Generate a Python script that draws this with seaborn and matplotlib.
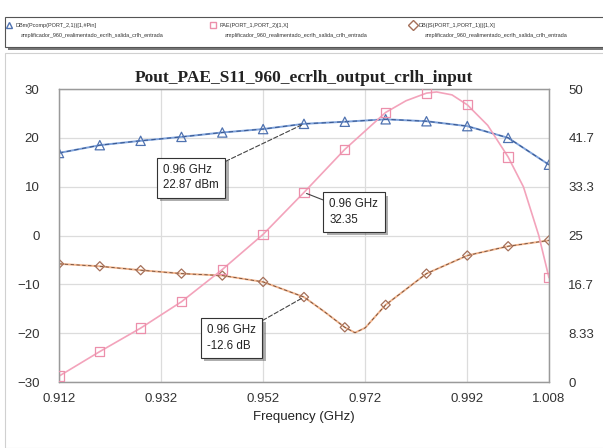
import numpy as np
import pandas as pd
import matplotlib
matplotlib.use("Agg")
import matplotlib.pyplot as plt
import matplotlib.patheffects as pe
from matplotlib.patches import Rectangle
import seaborn as sns

# Marker points (every 0.008 GHz)
freq = [0.912, 0.920, 0.928, 0.936, 0.944, 0.952, 0.960, 0.968, 0.976, 0.984, 0.992, 1.000, 1.008]
pout = [16.9, 18.5, 19.4, 20.2, 21.1, 21.8, 22.87, 23.3, 23.8, 23.4, 22.4, 20.0, 14.5]
pae = [1.0, 5.2, 9.2, 13.7, 19.2, 25.2, 32.35, 39.7, 46.0, 49.3, 47.3, 38.4, 17.8]
s11 = [-5.8, -6.3, -7.1, -7.8, -8.2, -9.5, -12.6, -18.8, -14.2, -7.8, -4.1, -2.2, -1.0]

# extra points
pae_extra_f = [0.980, 0.986, 0.989, 0.996, 1.003, 1.006]
pae_extra = [48.0, 49.5, 49.0, 43.8, 33.3, 25.0]
s11_extra_f = [0.964, 0.970, 0.972]
s11_extra = [-15.6, -19.9, -18.9]

left_ticks = [-30, -20, -10, 0, 10, 20, 30]
right_ticks = [0, 8.33, 16.7, 25, 33.3, 41.7, 50]
right_labels = ["0", "8.33", "16.7", "25", "33.3", "41.7", "50"]
x_ticks = [0.912, 0.932, 0.952, 0.972, 0.992, 1.008]

df = pd.DataFrame({"freq": freq, "pout": pout, "pae": pae, "s11": s11})
pae_line = pd.DataFrame({"freq": freq + pae_extra_f, "pae": pae + pae_extra}).sort_values("freq")
s11_line = pd.DataFrame({"freq": freq + s11_extra_f, "s11": s11 + s11_extra}).sort_values("freq")

sns.set_style("white")
plt.rcParams["font.family"] = ["Liberation Sans", "DejaVu Sans"]

fig = plt.figure(figsize=(6.03, 4.48), dpi=100)
ax = fig.add_axes([0.0978, 0.1473, 0.8126, 0.654])
ax2 = ax.twinx()

blue, blue_dk = "#7fa3dc", "#3b5a92"
pink = "#f3a3bb"
tan, brown_dk = "#f2b48c", "#6b4a3a"

# Pout (left axis)
sns.lineplot(data=df, x="freq", y="pout", ax=ax, color=blue, lw=1.4, sort=False)
sns.lineplot(data=df, x="freq", y="pout", ax=ax, color=blue_dk, lw=0.8, sort=False, linestyle=(0, (4, 3)))
sns.scatterplot(data=df, x="freq", y="pout", ax=ax, marker="^", s=45,
                facecolor="none", edgecolor="#4f72b0", linewidth=0.9, zorder=5)

# S11 (left axis)
sns.lineplot(data=s11_line, x="freq", y="s11", ax=ax, color=tan, lw=1.4, sort=False)
sns.lineplot(data=s11_line, x="freq", y="s11", ax=ax, color=brown_dk, lw=0.6, sort=False, linestyle=(0, (4, 3)))
sns.scatterplot(data=df, x="freq", y="s11", ax=ax, marker="D", s=22,
                facecolor="none", edgecolor="#a5705a", linewidth=0.9, zorder=5)

# PAE (right axis)
sns.lineplot(data=pae_line, x="freq", y="pae", ax=ax2, color=pink, lw=1.2, sort=False)
sns.scatterplot(data=df, x="freq", y="pae", ax=ax2, marker="s", s=45,
                facecolor="none", edgecolor="#ec8fab", linewidth=0.9, zorder=5)

ax.set_xlim(0.912, 1.008)
ax.set_ylim(-30, 30)
ax2.set_ylim(0, 50)
ax.set_xticks(x_ticks)
ax.set_xticklabels([f"{v:.3f}" for v in x_ticks])
ax.set_yticks(left_ticks)
ax2.set_yticks(right_ticks)
ax2.set_yticklabels(right_labels)
ax.grid(True, color="#dcdcdc", lw=0.9)
ax2.grid(False)
ax.set_ylabel("")
ax2.set_ylabel("")
ax.set_xlabel("Frequency (GHz)", fontsize=9.5, color="#222222", labelpad=4)
for a in (ax, ax2):
    a.tick_params(axis="both", length=0, labelsize=9.5, labelcolor="#333333")
    for sp in a.spines.values():
        sp.set_color("#9a9a9a")
        sp.set_linewidth(0.9)
ax.tick_params(axis="y", pad=14)
ax2.tick_params(axis="y", pad=14)
ax.tick_params(axis="x", pad=8)

ax.set_title("Pout_PAE_S11_960_ecrlh_output_crlh_input", family="Liberation Serif",
             fontweight="bold", fontsize=12.5, color="#222222", pad=5)

# marker annotations
ann = [
    (0.960, 22.87, ax, "0.96 GHz\n22.87 dBm", (0.9324, 11.8), (0, (4, 2))),
    (0.960, 32.35, ax2, "0.96 GHz\n32.35", (0.9650, 29.0), "-"),
    (0.960, -12.6, ax, "0.96 GHz\n-12.6 dB", (0.9410, -21.0), (0, (4, 2))),
]
for fx, fy, a, txt, (tx, ty), ls in ann:
    t = a.annotate(txt, xy=(fx, fy), xytext=(tx, ty), fontsize=8.3, color="#222222",
                   ha="left", va="center", linespacing=1.35, zorder=8,
                   bbox=dict(boxstyle="square,pad=0.55", fc="white", ec="#333333", lw=0.8),
                   arrowprops=dict(arrowstyle="-", color="#444444", lw=0.8, linestyle=ls,
                                   shrinkA=0, shrinkB=2))
    t.get_bbox_patch().set_path_effects([pe.SimplePatchShadow(offset=(2.5, -2.5), alpha=0.45),
                                         pe.Normal()])

# outer frame and legend strip at top
fig.patches.append(Rectangle((5 / 603, 0.0), 0.995, 1 - 53 / 448, transform=fig.transFigure,
                             fill=False, ec="#d0d0d0", lw=0.8))
fig.patches.append(Rectangle((8 / 603, 1 - 50 / 448), 0.995, 30 / 448, transform=fig.transFigure,
                             fc="#777777", ec="none"))
fig.patches.append(Rectangle((5 / 603, 1 - 47 / 448), 0.995, 30 / 448, transform=fig.transFigure,
                             fc="white", ec="#555555", lw=0.8))

leg_names = ["DBm(Pcomp(PORT_2,1))[1,#Pin]", "PAE(PORT_1,PORT_2)[1,X]", "DB(|S(PORT_1,PORT_1)|)[1,X]"]
leg_sub = ["amplificador_960_realimentado_ecrlh_salida_crlh_entrada"] * 3
leg_x = [9, 213, 413]
leg_mk = [("^", "#4f72b0"), ("s", "#ec8fab"), ("D", "#a5705a")]
for x0, name, sub, (mk, c) in zip(leg_x, leg_names, leg_sub, leg_mk):
    fig.lines.append(plt.Line2D([x0 / 603], [1 - 25 / 448], marker=mk, ms=5, mfc="none", mec=c,
                                transform=fig.transFigure))
    fig.text((x0 + 6) / 603, 1 - 25 / 448, name, fontsize=4, va="center", color="#333333")
    fig.text((x0 + 12) / 603, 1 - 35 / 448, sub, fontsize=4, va="center", color="#333333")

fig.savefig("out.png", dpi=100, facecolor="white")
